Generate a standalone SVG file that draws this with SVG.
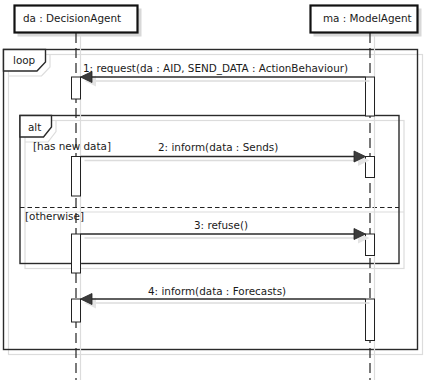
<svg xmlns="http://www.w3.org/2000/svg" width="429" height="380" viewBox="0 0 429 380">
<style>
text{font-family:"DejaVu Sans",sans-serif;font-size:10.4px;fill:#1a1a1a}
.sh{fill:none;stroke:#dcdcdc;stroke-width:1.2}
.frame{fill:none;stroke:#2a2a2a;stroke-width:1.4}
.tab{fill:#fff;stroke:#2a2a2a;stroke-width:1.4}
.life{stroke:#222;stroke-width:1.2;stroke-dasharray:10,5}
.lifesh{stroke:#dcdcdc;stroke-width:1.2}
.act{fill:#fff;stroke:#222;stroke-width:1}
.msg{stroke:#2a2a2a;stroke-width:1.3;fill:none}
.msgsh{stroke:#dcdcdc;stroke-width:1.3;fill:none}
.head{fill:#3c3c3c;stroke:#222;stroke-width:0.8}
.headsh{fill:#e4e4e4;stroke:none}
.box{fill:#fff;stroke:#111;stroke-width:2.2}
.boxsh{fill:#d8d8d8}
</style>
<rect width="429" height="380" fill="#fff"/>
<!-- frames -->
<g id="loop">
<rect class="sh" x="8.5" y="54.5" width="414" height="300"/>
<polyline class="sh" points="8.5,76 41.5,76 50,67 50,54.5"/>
<rect class="frame" x="3.5" y="49.5" width="414" height="300"/>
<polygon class="tab" points="3.5,49.5 45.5,49.5 45.5,62 37,71 3.5,71"/>
<text x="13" y="64">loop</text>
</g>
<g id="alt">
<rect class="sh" x="25" y="120.5" width="379" height="148"/>
<polyline class="sh" points="25,142 48,142 56,131.5 56,120.5"/>
<line class="sh" x1="25" y1="212" x2="404" y2="212"/>
<rect class="frame" x="20" y="115.5" width="379" height="148"/>
<polygon class="tab" points="20,115.5 51.5,115.5 51.5,127 43.5,137 20,137"/>
<text x="28" y="131">alt</text>
<line x1="20" y1="207.5" x2="399" y2="207.5" stroke="#222" stroke-width="1.2" stroke-dasharray="4.5,3"/>
<text x="33" y="150">[has new data]</text>
<text x="25" y="220">[otherwise]</text>
</g>
<!-- lifelines -->
<g id="da">
<rect class="boxsh" x="17.5" y="8.5" width="124" height="28"/>
<line class="lifesh" x1="80.5" y1="36" x2="80.5" y2="380"/>
<line class="life" x1="76" y1="33" x2="76" y2="380"/>
<rect class="box" x="14.5" y="5.5" width="123" height="27"/>
<text x="23" y="22">da : DecisionAgent</text>
<rect class="act" x="71.5" y="77" width="9" height="22"/>
<rect class="act" x="71.5" y="156.5" width="9" height="39.5"/>
<rect class="act" x="71.5" y="234" width="9" height="39"/>
<rect class="act" x="71.5" y="299" width="9" height="23"/>
</g>
<g id="ma">
<rect class="boxsh" x="313.5" y="8.5" width="108" height="28"/>
<line class="lifesh" x1="374.5" y1="36" x2="374.5" y2="380"/>
<line class="life" x1="370" y1="33" x2="370" y2="380"/>
<rect class="box" x="310.5" y="5.5" width="107" height="27"/>
<text x="323" y="22">ma : ModelAgent</text>
<rect class="act" x="365.5" y="77" width="9" height="39"/>
<rect class="act" x="365.5" y="156.5" width="9" height="21"/>
<rect class="act" x="365.5" y="234" width="9" height="21.5"/>
<rect class="act" x="365.5" y="299" width="9" height="41.5"/>
</g>
<!-- connectors -->
<g id="connectors">
<line class="msgsh" x1="96" y1="81" x2="369.5" y2="81"/>
<polygon class="headsh" points="84.5,81 96,75.5 96,86.5"/>
<line class="msg" x1="90" y1="77" x2="365.5" y2="77"/>
<polygon class="head" points="80.5,77 92,71.5 92,82.5"/>
<text x="83" y="72">1: request(da : AID, SEND_DATA : ActionBehaviour)</text>

<line class="msgsh" x1="84.5" y1="160.5" x2="358" y2="160.5"/>
<polygon class="headsh" points="369.5,160.5 358,155 358,166"/>
<line class="msg" x1="80.5" y1="156.5" x2="356" y2="156.5"/>
<polygon class="head" points="365.5,156.5 354,151 354,162"/>
<text x="158" y="150.5">2: inform(data : Sends)</text>

<line class="msgsh" x1="84.5" y1="238" x2="358" y2="238"/>
<polygon class="headsh" points="369.5,238 358,232.5 358,243.5"/>
<line class="msg" x1="80.5" y1="234" x2="356" y2="234"/>
<polygon class="head" points="365.5,234 354,228.5 354,239.5"/>
<text x="194" y="229">3: refuse()</text>

<line class="msgsh" x1="96" y1="303" x2="369.5" y2="303"/>
<polygon class="headsh" points="84.5,303 96,297.5 96,308.5"/>
<line class="msg" x1="90" y1="299" x2="365.5" y2="299"/>
<polygon class="head" points="80.5,299 92,293.5 92,304.5"/>
<text x="148" y="295">4: inform(data : Forecasts)</text>
</g>
</svg>
